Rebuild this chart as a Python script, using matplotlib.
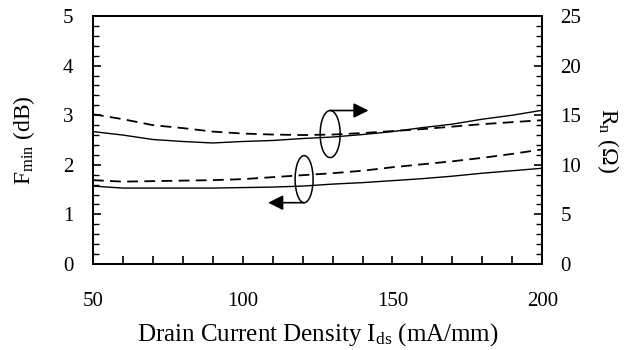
import matplotlib
matplotlib.use("Agg")
import matplotlib.pyplot as plt
import matplotlib.ticker as ticker
from matplotlib.patches import Ellipse

# values
ids = [50, 60, 70, 80, 90, 100, 110, 120, 130, 140, 150, 160, 170, 180, 190, 200]

# minimum noise figure (dB), left axis
fmin_solid = [1.57, 1.53, 1.53, 1.53, 1.53, 1.54, 1.55, 1.57,
              1.61, 1.64, 1.68, 1.72, 1.77, 1.83, 1.88, 1.93]
fmin_dashed = [1.69, 1.66, 1.67, 1.68, 1.69, 1.71, 1.75, 1.79,
               1.83, 1.88, 1.95, 2.01, 2.07, 2.14, 2.22, 2.31]

# noise resistance (Ohm), right axis
rn_solid = [13.35, 13.0, 12.55, 12.35, 12.2, 12.35, 12.45, 12.65,
            12.8, 13.05, 13.35, 13.75, 14.1, 14.6, 15.0, 15.5]
rn_dashed = [15.1, 14.6, 14.0, 13.7, 13.35, 13.15, 13.05, 13.0,
             13.05, 13.2, 13.4, 13.6, 13.85, 14.1, 14.3, 14.5]

plt.rcParams["font.family"] = ["Liberation Serif", "DejaVu Serif"]
plt.rcParams["mathtext.fontset"] = "custom"
plt.rcParams["mathtext.rm"] = "Liberation Serif"
plt.rcParams["mathtext.it"] = "Liberation Serif:italic"

fig, ax = plt.subplots(figsize=(6.32, 3.5), dpi=100)
fig.subplots_adjust(left=0.147, right=0.858, bottom=0.246, top=0.954)
ax2 = ax.twinx()

lw = 1.0
dash = (6, 3.5)

ax.plot(ids, fmin_solid, color="black", lw=lw)
ax.plot(ids, fmin_dashed, color="black", lw=1.3, dashes=dash)
ax2.plot(ids, rn_solid, color="black", lw=lw)
ax2.plot(ids, rn_dashed, color="black", lw=1.3, dashes=dash)

ax.set_xlim(50, 200)
ax.set_ylim(0, 5)
ax2.set_ylim(0, 25)

ax.xaxis.set_major_locator(ticker.MultipleLocator(50))
ax.xaxis.set_minor_locator(ticker.MultipleLocator(10))
ax.yaxis.set_major_locator(ticker.MultipleLocator(1))
ax.yaxis.set_minor_locator(ticker.MultipleLocator(0.2))
ax2.yaxis.set_major_locator(ticker.MultipleLocator(5))
ax2.yaxis.set_minor_locator(ticker.MultipleLocator(1))

for a in (ax, ax2):
    for s in a.spines.values():
        s.set_linewidth(1.3)

ax.tick_params(axis="x", which="both", direction="in", length=6, width=1.2,
               top=False, labelsize=15, pad=20)
ax.tick_params(axis="y", which="major", direction="in", length=6, width=1.2,
               right=False, labelsize=15, pad=14)
ax.tick_params(axis="y", which="minor", direction="in", length=4, width=1.0,
               right=False)
ax2.tick_params(axis="y", which="major", direction="in", length=6, width=1.2,
                left=False, labelsize=15, pad=13)
ax2.tick_params(axis="y", which="minor", direction="in", length=4, width=1.0,
                left=False)

ax.set_xlabel(r"Drain Current Density I$_\mathregular{ds}$ (mA/mm)", fontsize=18)
ax.set_ylabel(r"F$_\mathregular{min}$ (dB)", fontsize=17)
ax2.set_ylabel(r"R$_\mathregular{n}$ ($\Omega$)", fontsize=17, rotation=270,
               va="center")
ax.xaxis.set_label_coords(0.5, -0.23)
ax.yaxis.set_label_coords(-0.125, 0.5)
ax2.yaxis.set_label_coords(1.147, 0.5)

# ellipses marking the pairs of curves, with arrows to their axes
ax.add_patch(Ellipse((120.5, 1.71), 6.0, 0.95, fill=False, color="black", lw=1.1))
ax.add_patch(Ellipse((129.2, 2.62), 6.7, 0.95, fill=False, color="black", lw=1.1))
arrow = dict(arrowstyle="-|>,head_length=0.9,head_width=0.45",
             mutation_scale=10, color="black", lw=1.2, shrinkA=0, shrinkB=0)
ax.annotate("", xy=(108.5, 1.235), xytext=(120.5, 1.235), arrowprops=arrow)
ax.annotate("", xy=(142.0, 3.095), xytext=(129.2, 3.095), arrowprops=arrow)

fig.savefig("out.png", dpi=100)
